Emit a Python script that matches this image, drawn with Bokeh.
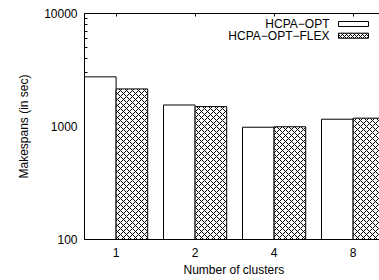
import numpy as np
from bokeh.plotting import figure
from bokeh.models import (Range1d, FixedTicker, LinearAxis, NumeralTickFormatter,
                          Label, Title)
from bokeh.embed import file_html
from bokeh.resources import INLINE

# ---- data ----
clusters = ["1", "2", "4", "8"]
hcpa_opt = [2750, 1550, 985, 1160]
hcpa_opt_flex = [2150, 1500, 995, 1185]
series_names = ["HCPA\u2212OPT", "HCPA\u2212OPT\u2212FLEX"]
y_ticks = [100, 1000, 10000]

FONT = "Liberation Sans"
xs = np.arange(len(clusters))

p = figure(width=379, height=280, y_axis_type="log",
           x_range=Range1d(-0.4, 3.334), y_range=Range1d(100, 10000),
           output_backend="svg", toolbar_location=None,
           min_border_left=84, min_border_right=0, min_border_top=13,
           min_border_bottom=41)
p.outline_line_color = None
p.grid.visible = False
p.background_fill_color = "white"
p.border_fill_color = "white"

# bars (drawn above the guides so they hide inner ticks like the original)
r1 = p.vbar(x=xs - 0.2, width=0.4, top=hcpa_opt, bottom=100,
            fill_color="white", line_color="black", line_width=1)
r2 = p.vbar(x=xs + 0.2, width=0.4, top=hcpa_opt_flex, bottom=100,
            fill_color="white", line_color="black", line_width=1,
            hatch_pattern="diagonal_cross", hatch_color="black",
            hatch_scale=6, hatch_weight=1)
r1.level = "overlay"
r2.level = "overlay"

# x axis
xa = p.xaxis[0]
xa.ticker = FixedTicker(ticks=list(xs))
xa.major_label_overrides = {int(i): c for i, c in zip(xs, clusters)}
xa.major_tick_in = 4
xa.major_tick_out = 0
xa.minor_tick_line_color = None
xa.major_label_standoff = 8
xa.major_label_text_font = FONT
xa.major_label_text_font_size = "12px"
xa.major_label_text_color = "black"
xa.axis_line_color = "black"

# y axis
ya = p.yaxis[0]
minor = [m * d for d in (100, 1000) for m in range(2, 10)]
ya.ticker = FixedTicker(ticks=y_ticks, minor_ticks=minor)
ya.formatter = NumeralTickFormatter(format="0")
ya.major_tick_in = 5
ya.major_tick_out = 0
ya.minor_tick_in = 3
ya.minor_tick_out = 0
ya.major_label_standoff = 7
ya.major_label_text_font = FONT
ya.major_label_text_font_size = "12px"
ya.major_label_text_color = "black"
ya.axis_label = "Makespans (in sec)"
ya.axis_label_text_font = FONT
ya.axis_label_text_font_size = "12px"
ya.axis_label_text_font_style = "normal"
ya.axis_label_text_color = "black"
ya.axis_label_standoff = 10

# top border with mirrored ticks
top = LinearAxis(ticker=FixedTicker(ticks=list(xs)), major_tick_in=3,
                 major_tick_out=0, minor_tick_line_color=None,
                 major_label_text_font_size="0px", major_label_standoff=0,
                 axis_line_color="black")
top.major_label_overrides = {int(i): "" for i in xs}
p.add_layout(top, "above")

# x axis title
p.add_layout(Title(text="Number of clusters", align="left", offset=99,
                   text_font=FONT, text_font_size="12px",
                   text_font_style="normal", text_color="black", standoff=2),
             "below")

# legend (text left of sample, as in the original)
for name, ty in zip(series_names, [8075, 6383]):
    p.add_layout(Label(x=2.701, y=ty, text=name, text_align="right",
                       text_baseline="middle", text_font=FONT,
                       text_font_size="12px", text_color="black"))
p.quad(left=[2.815], right=[3.195], top=[8494], bottom=[7675],
       fill_color="white", line_color="black", line_width=1)
p.quad(left=[2.815], right=[3.195], top=[6697], bottom=[6046],
       fill_color="white", line_color="black", line_width=1,
       hatch_pattern="diagonal_cross", hatch_color="black",
       hatch_scale=4, hatch_weight=1)

open("out.html", "w").write(file_html(p, INLINE))
